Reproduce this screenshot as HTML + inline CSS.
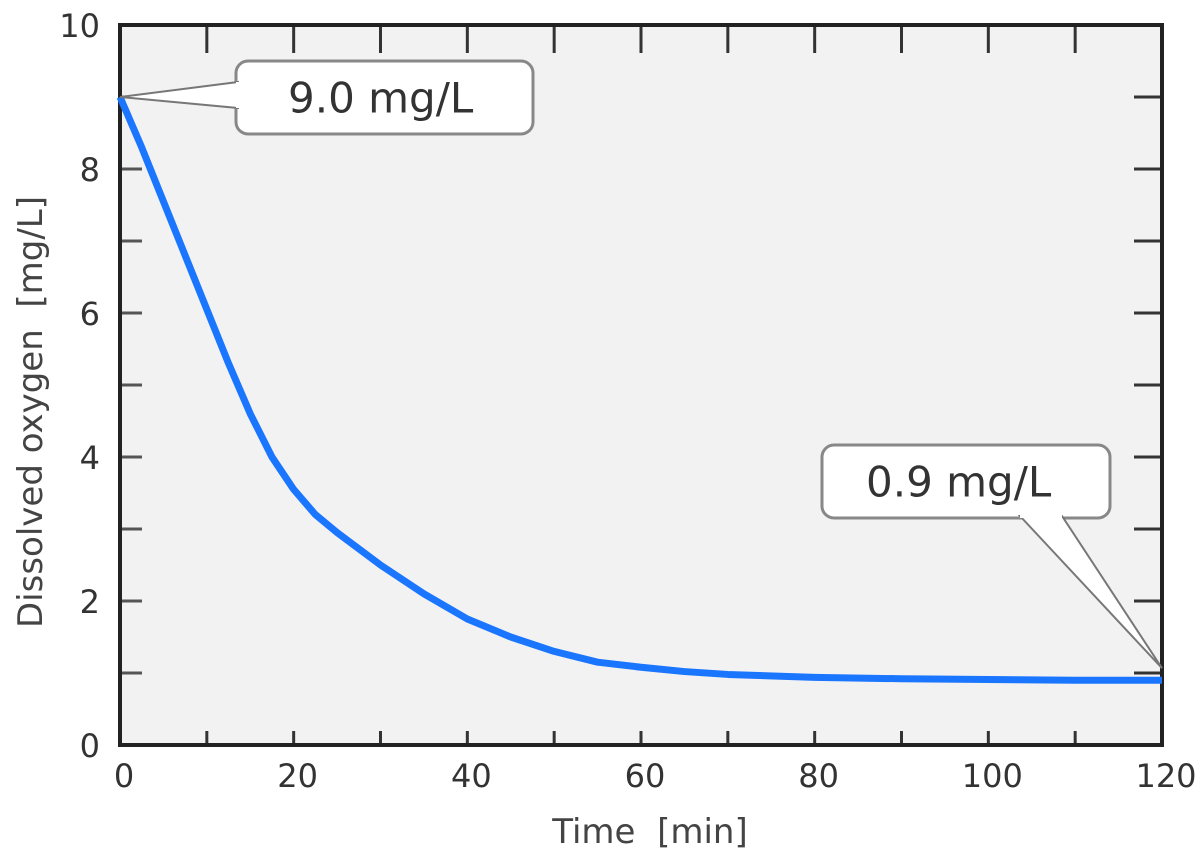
<!DOCTYPE html>
<html><head><meta charset="utf-8"><style>
body{margin:0;background:#fff;width:1200px;height:856px;overflow:hidden}
svg text{font-family:"DejaVu Sans","Liberation Sans",sans-serif;white-space:pre}
</style></head><body>
<svg id="c" width="1200" height="856"></svg>
<script>
const times=[0,2.5,5,7.5,10,12.5,15,17.5,20,22.5,25,30,35,40,45,50,55,60,65,70,80,90,100,110,120];
const oxygen=[9.0,8.3,7.55,6.8,6.05,5.3,4.6,4.0,3.55,3.2,2.95,2.5,2.1,1.75,1.5,1.3,1.15,1.08,1.02,0.98,0.94,0.92,0.91,0.9,0.9];
const xTicks=[0,20,40,60,80,100,120];
const yTicks=[0,2,4,6,8,10];
const L=120,R=1162,T=25,B=745;
const X=v=>L+(v/120)*(R-L), Y=v=>B-(v/10)*(B-T);
const NS='http://www.w3.org/2000/svg', svg=document.getElementById('c');
function mk(t,a,p){const e=document.createElementNS(NS,t);for(const k in a)e.setAttribute(k,a[k]);(p||svg).appendChild(e);return e;}
const bg=mk('rect',{x:L,y:T,width:R-L,height:B-T,fill:'#f2f2f2'});


for(let v=10;v<120;v+=10){mk('line',{x1:X(v),x2:X(v),y1:B,y2:B-14,stroke:'#333','stroke-width':3});mk('line',{x1:X(v),x2:X(v),y1:T,y2:T+28,stroke:'#333','stroke-width':3});}
for(let v=1;v<10;v++){mk('line',{x1:R,x2:R-28,y1:Y(v),y2:Y(v),stroke:'#333','stroke-width':3});mk('line',{x1:L,x2:L+22,y1:Y(v),y2:Y(v),stroke:'#555','stroke-width':3});}
const fr=mk('rect',{x:L,y:T,width:R-L,height:B-T,fill:'none',stroke:'#222','stroke-width':4});


xTicks.forEach(v=>{const t=mk('text',{x:X(v)+4,y:787,'text-anchor':'middle','font-size':32,fill:'#333'});t.textContent=v;

});
yTicks.forEach(v=>{const t=mk('text',{x:100,y:Y(v)+12,'text-anchor':'end','font-size':32,fill:'#333'});t.textContent=v;

});
const xt=mk('text',{x:650,y:843,'text-anchor':'middle','font-size':34,fill:'#444'});xt.textContent='Time  [min]';


const yt=mk('text',{x:0,y:0,transform:'translate(42,412) rotate(-90)','text-anchor':'middle','font-size':34,fill:'#444'});yt.textContent='Dissolved oxygen  [mg/L]';


const line=mk('polyline',{points:times.map((t,i)=>X(t)+','+Y(oxygen[i])).join(' '),fill:'none',stroke:'#1a75ff','stroke-width':7,'stroke-linejoin':'round'});


function callout(bx,by,bw,bh,px,py,tx1,ty1,tx2,ty2,label,name,tx){
 const g=mk('g',{});
 
 
 mk('rect',{x:bx,y:by,width:bw,height:bh,rx:12,fill:'#fff',stroke:'#888','stroke-width':3},g);
 mk('polygon',{points:`${tx1},${ty1} ${px},${py} ${tx2},${ty2}`,fill:'#fff',stroke:'#777','stroke-width':2},g);
 mk('line',{x1:tx1,y1:ty1,x2:tx2,y2:ty2,stroke:'#fff','stroke-width':4},g);
 const t=mk('text',{x:tx,y:by+bh/2+15,'text-anchor':'start','font-size':42,fill:'#333'},g);t.textContent=label;
}
callout(236,61,297,73,X(times[0]),Y(oxygen[0]),238,82,238,108,'9.0 mg/L','callout-start',288);
const n=times.length-1;
callout(822,445,288,73,X(times[n]),Y(oxygen[n])-12,1020,516,1062,516,'0.9 mg/L','callout-end',866);
</script>
</body></html>
